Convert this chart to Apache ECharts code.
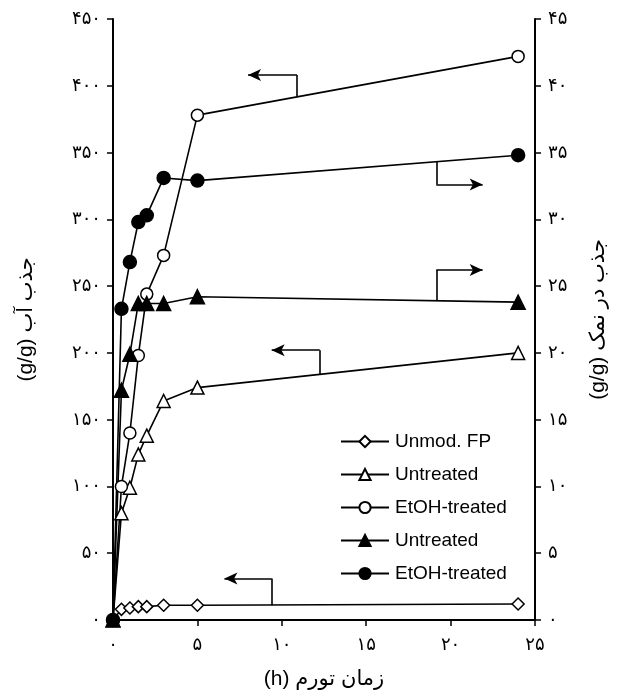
<!DOCTYPE html>
<html>
<head>
<meta charset="UTF-8">
<title>swelling chart</title>
<script type="text/javascript" src="https://cdn.jsdelivr.net/npm/echarts@6/dist/echarts.min.js"></script>
</head>
<body style="margin:0;background:#fff">
	<div id="show" style="width:620px;height:695px"></div>
	<script type="text/javascript">
		// time (h) and absorbency values
		var times=[0,0.5,1,1.5,2,3,5,24];
		var unmodFP=[0,8,9,10,10,11,11,12];
		var untreatedWater=[0,80,99,124,138,164,174,200];
		var etohWater=[0,100,140,198,244,273,378,422];
		var untreatedSalt=[0,17.2,19.9,23.7,23.7,23.7,24.2,23.8];
		var etohSalt=[0,23.3,26.8,29.8,30.3,33.1,32.9,34.8];

		var xLabels=['۰','۵','۱۰','۱۵','۲۰','۲۵'];
		var yLeftLabels=['۰','۵۰','۱۰۰','۱۵۰','۲۰۰','۲۵۰','۳۰۰','۳۵۰','۴۰۰','۴۵۰'];
		var yRightLabels=['۰','۵','۱۰','۱۵','۲۰','۲۵','۳۰','۳۵','۴۰','۴۵'];

		var seriesNames=['Unmod. FP','Untreated','EtOH-treated','Untreated (salt)','EtOH-treated (salt)'];
		var legendLabels=['Unmod. FP','Untreated','EtOH-treated','Untreated','EtOH-treated'];

		// bent arrows pointing to the axis each curve belongs to (left-axis units)
		var arrowPaths=[
			[[10.9,392],[10.9,408],[8.0,408]],
			[[19.15,343],[19.15,326],[21.9,326]],
			[[19.15,239],[19.15,262],[21.9,262]],
			[[12.25,184],[12.25,202],[9.4,202]],
			[[9.4,11],[9.4,31],[6.6,31]]
		];

		var font='"Liberation Sans", "DejaVu Sans", sans-serif';
		var RLE='\u202B', PDF='\u202C';

		function pairs(vals){
			var out=[];
			for(var i=0;i<times.length;i++){
				out.push([times[i],vals[i]]);
			}
			return out;
		}

		var arrowLines=[];
		for(var i=0;i<arrowPaths.length;i++){
			var p=arrowPaths[i];
			arrowLines.push([{coord:p[0],symbol:'none'},{coord:p[1],symbol:'none'}]);
			arrowLines.push([{coord:p[1],symbol:'none'},{coord:p[2],symbol:'arrow',symbolSize:[9,13]}]);
		}

		function lineSeries(idx,vals,yIdx,symbol,size,filled){
			return {
				name:seriesNames[idx],
				type:'line',
				yAxisIndex:yIdx,
				data:pairs(vals),
				symbol:symbol,
				symbolSize:size,
				showAllSymbol:true,
				lineStyle:{color:'#000',width:1.6},
				itemStyle:{color:filled?'#000':'#fff',borderColor:'#000',borderWidth:1.5},
				emphasis:{disabled:true},
				animation:false
			};
		}

		var series=[
			lineSeries(0,unmodFP,0,'diamond',12,false),
			lineSeries(1,untreatedWater,0,'triangle',13,false),
			lineSeries(2,etohWater,0,'circle',12,false),
			lineSeries(3,untreatedSalt,1,'triangle',14,true),
			lineSeries(4,etohSalt,1,'circle',13,true)
		];
		series[0].markLine={
			silent:true,
			animation:false,
			symbol:['none','none'],
			label:{show:false},
			lineStyle:{color:'#000',width:1.6,type:'solid'},
			data:arrowLines
		};

		var axisLine={lineStyle:{color:'#000',width:2}};
		var axisTick={inside:false,length:6,lineStyle:{color:'#000',width:1.5}};

		var myCharts=echarts.init(document.getElementById('show'));
		myCharts.setOption({
			animation:false,
			grid:{left:113,right:85,top:19,bottom:75},
			legend:{
				orient:'vertical',
				left:340,
				top:432,
				padding:0,
				itemWidth:48,
				itemHeight:14,
				itemGap:14,
				data:seriesNames,
				selectedMode:false,
				formatter:function(name){
					return legendLabels[seriesNames.indexOf(name)];
				},
				textStyle:{fontFamily:font,fontSize:19,color:'#000',padding:[0,0,0,1]}
			},
			xAxis:{
				type:'value',
				min:0,max:25,interval:5,
				axisLine:axisLine,
				axisTick:axisTick,
				splitLine:{show:false},
				axisLabel:{
					color:'#000',fontSize:18,fontFamily:font,margin:16,
					formatter:function(v){return xLabels[Math.round(v/5)];}
				},
				name:RLE+'زمان تورم (h)'+PDF,
				nameLocation:'middle',
				nameGap:49,
				nameTextStyle:{color:'#000',fontSize:21,fontFamily:font}
			},
			yAxis:[{
				type:'value',
				position:'left',
				min:0,max:450,interval:50,
				axisLine:Object.assign({show:true},axisLine),
				axisTick:axisTick,
				splitLine:{show:false},
				axisLabel:{
					color:'#000',fontSize:18,fontFamily:font,margin:12,
					formatter:function(v){return yLeftLabels[Math.round(v/50)];}
				},
				name:RLE+'جذب آب (g/g)'+PDF,
				nameLocation:'middle',
				nameRotate:90,
				nameGap:76,
				nameTextStyle:{color:'#000',fontSize:21,fontFamily:font}
			},{
				type:'value',
				position:'right',
				min:0,max:45,interval:5,
				axisLine:Object.assign({show:true},axisLine),
				axisTick:axisTick,
				splitLine:{show:false},
				axisLabel:{
					color:'#000',fontSize:18,fontFamily:font,margin:13,
					formatter:function(v){return yRightLabels[Math.round(v/5)];}
				},
				name:RLE+'جذب در نمک (g/g)'+PDF,
				nameLocation:'middle',
				nameRotate:90,
				nameGap:53,
				nameTextStyle:{color:'#000',fontSize:21,fontFamily:font}
			}],
			series:series
		});
	</script>
</body>
</html>
